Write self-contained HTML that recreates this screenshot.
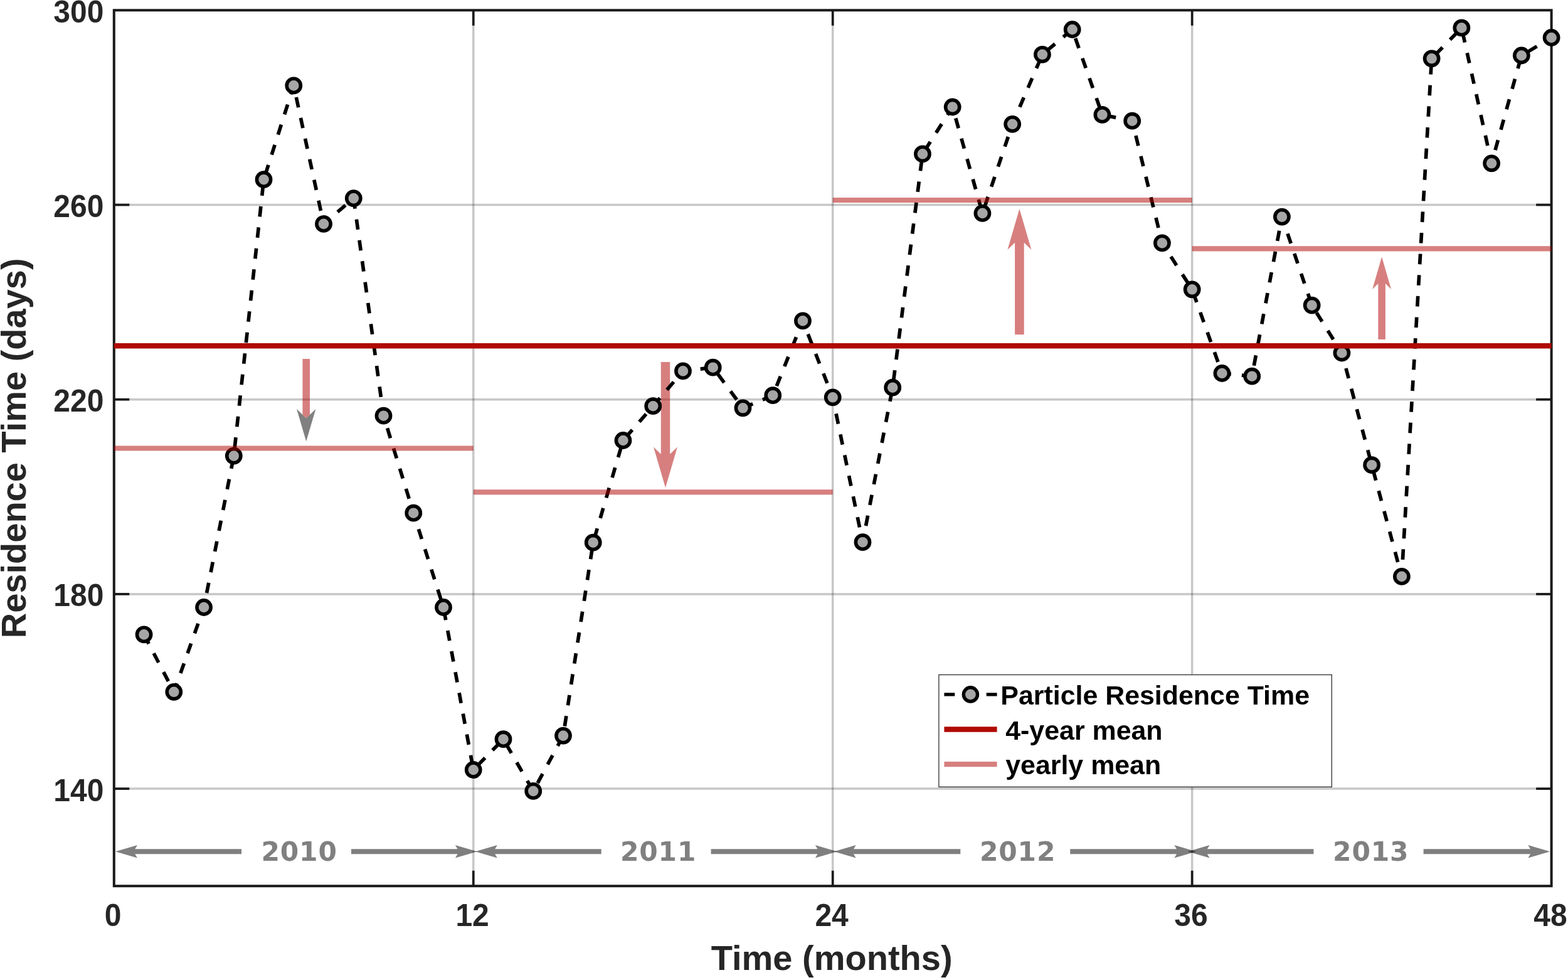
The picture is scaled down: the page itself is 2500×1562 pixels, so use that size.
<!DOCTYPE html>
<html lang="en">
<head>
<meta charset="utf-8">
<title>Particle Residence Time</title>
<style>
html,body{margin:0;padding:0;background:#fff;}
body{width:2500px;height:1562px;overflow:hidden;}
svg{display:block;}
text{font-family:"Liberation Sans",sans-serif;font-weight:bold;}
.tick{font-size:49.2px;fill:#262626;}
.axl{font-size:56px;fill:#262626;}
.leg{font-size:42.9px;fill:#000;}
.yr{font-family:"DejaVu Sans","Liberation Sans",sans-serif;font-size:42.4px;letter-spacing:0.8px;fill:#808080;}
</style>
</head>
<body>
<svg width="2500" height="1562" viewBox="0 0 2500 1562">
<rect x="0" y="0" width="2500" height="1562" fill="#fff"/>

<g stroke="#262626" stroke-opacity="0.26" stroke-width="3.5" fill="none">
<line x1="754.75" y1="16.30" x2="754.75" y2="1412.20"/>
<line x1="1327.70" y1="16.30" x2="1327.70" y2="1412.20"/>
<line x1="1900.65" y1="16.30" x2="1900.65" y2="1412.20"/>
<line x1="181.80" y1="1257.10" x2="2473.60" y2="1257.10"/>
<line x1="181.80" y1="946.90" x2="2473.60" y2="946.90"/>
<line x1="181.80" y1="636.70" x2="2473.60" y2="636.70"/>
<line x1="181.80" y1="326.50" x2="2473.60" y2="326.50"/>
</g>
<rect x="181.80" y="16.30" width="2291.80" height="1395.90" fill="none" stroke="#1a1a1a" stroke-width="4"/>
<g stroke="#1a1a1a" stroke-width="3.7" fill="none">
<line x1="754.75" y1="1412.20" x2="754.75" y2="1387.70"/>
<line x1="754.75" y1="16.30" x2="754.75" y2="40.80"/>
<line x1="1327.70" y1="1412.20" x2="1327.70" y2="1387.70"/>
<line x1="1327.70" y1="16.30" x2="1327.70" y2="40.80"/>
<line x1="1900.65" y1="1412.20" x2="1900.65" y2="1387.70"/>
<line x1="1900.65" y1="16.30" x2="1900.65" y2="40.80"/>
<line x1="181.80" y1="1257.10" x2="206.30" y2="1257.10"/>
<line x1="2473.60" y1="1257.10" x2="2449.10" y2="1257.10"/>
<line x1="181.80" y1="946.90" x2="206.30" y2="946.90"/>
<line x1="2473.60" y1="946.90" x2="2449.10" y2="946.90"/>
<line x1="181.80" y1="636.70" x2="206.30" y2="636.70"/>
<line x1="2473.60" y1="636.70" x2="2449.10" y2="636.70"/>
<line x1="181.80" y1="326.50" x2="206.30" y2="326.50"/>
<line x1="2473.60" y1="326.50" x2="2449.10" y2="326.50"/>
</g>
<g>
<polygon points="482.40,572.10 494.00,572.10 494.00,660.90 488.20,666.42 482.40,660.90" fill="#b00000" fill-opacity="0.5"/>
<polygon points="488.20,703.50 473.05,652.00 488.20,666.42 503.35,652.00" fill="#808080" fill-opacity="1"/>
<polygon points="1053.75,577.00 1068.25,577.00 1068.25,723.72 1080.00,712.50 1061.00,777.30 1042.00,712.50 1053.75,723.72" fill="#b00000" fill-opacity="0.5"/>
<polygon points="1618.10,533.20 1632.70,533.20 1632.70,386.73 1644.40,397.90 1625.40,333.10 1606.40,397.90 1618.10,386.73" fill="#b00000" fill-opacity="0.5"/>
<polygon points="2197.30,541.10 2208.90,541.10 2208.90,452.09 2218.10,460.90 2203.10,409.60 2188.10,460.90 2197.30,452.09" fill="#b00000" fill-opacity="0.5"/>
</g>
<polyline fill="none" stroke="#000" stroke-width="5.7" stroke-dasharray="16.6 17.08" points="229.55,1011.40 277.29,1102.80 325.04,968.00 372.78,726.60 420.53,286.20 468.27,136.40 516.02,356.90 563.77,316.10 611.51,662.70 659.26,817.70 707.00,968.00 754.75,1227.00 802.50,1178.20 850.24,1260.90 897.99,1172.60 945.73,864.70 993.48,702.00 1041.22,647.20 1088.97,591.40 1136.72,585.70 1184.46,650.30 1232.21,630.20 1279.95,511.40 1327.70,633.30 1375.45,864.20 1423.19,617.70 1470.94,245.40 1518.68,170.50 1566.43,339.90 1614.17,197.80 1661.92,86.80 1709.67,47.00 1757.41,182.90 1805.16,192.70 1852.90,387.40 1900.65,461.30 1948.40,595.00 1996.14,599.70 2043.89,345.60 2091.63,486.60 2139.38,562.50 2187.12,741.20 2234.87,918.90 2282.62,93.30 2330.36,44.40 2378.11,260.30 2425.85,88.50 2473.60,60.00"/>
<g fill="#a6a6a6" stroke="#000" stroke-width="5.6">
<circle cx="229.55" cy="1011.40" r="11.1"/>
<circle cx="277.29" cy="1102.80" r="11.1"/>
<circle cx="325.04" cy="968.00" r="11.1"/>
<circle cx="372.78" cy="726.60" r="11.1"/>
<circle cx="420.53" cy="286.20" r="11.1"/>
<circle cx="468.27" cy="136.40" r="11.1"/>
<circle cx="516.02" cy="356.90" r="11.1"/>
<circle cx="563.77" cy="316.10" r="11.1"/>
<circle cx="611.51" cy="662.70" r="11.1"/>
<circle cx="659.26" cy="817.70" r="11.1"/>
<circle cx="707.00" cy="968.00" r="11.1"/>
<circle cx="754.75" cy="1227.00" r="11.1"/>
<circle cx="802.50" cy="1178.20" r="11.1"/>
<circle cx="850.24" cy="1260.90" r="11.1"/>
<circle cx="897.99" cy="1172.60" r="11.1"/>
<circle cx="945.73" cy="864.70" r="11.1"/>
<circle cx="993.48" cy="702.00" r="11.1"/>
<circle cx="1041.22" cy="647.20" r="11.1"/>
<circle cx="1088.97" cy="591.40" r="11.1"/>
<circle cx="1136.72" cy="585.70" r="11.1"/>
<circle cx="1184.46" cy="650.30" r="11.1"/>
<circle cx="1232.21" cy="630.20" r="11.1"/>
<circle cx="1279.95" cy="511.40" r="11.1"/>
<circle cx="1327.70" cy="633.30" r="11.1"/>
<circle cx="1375.45" cy="864.20" r="11.1"/>
<circle cx="1423.19" cy="617.70" r="11.1"/>
<circle cx="1470.94" cy="245.40" r="11.1"/>
<circle cx="1518.68" cy="170.50" r="11.1"/>
<circle cx="1566.43" cy="339.90" r="11.1"/>
<circle cx="1614.17" cy="197.80" r="11.1"/>
<circle cx="1661.92" cy="86.80" r="11.1"/>
<circle cx="1709.67" cy="47.00" r="11.1"/>
<circle cx="1757.41" cy="182.90" r="11.1"/>
<circle cx="1805.16" cy="192.70" r="11.1"/>
<circle cx="1852.90" cy="387.40" r="11.1"/>
<circle cx="1900.65" cy="461.30" r="11.1"/>
<circle cx="1948.40" cy="595.00" r="11.1"/>
<circle cx="1996.14" cy="599.70" r="11.1"/>
<circle cx="2043.89" cy="345.60" r="11.1"/>
<circle cx="2091.63" cy="486.60" r="11.1"/>
<circle cx="2139.38" cy="562.50" r="11.1"/>
<circle cx="2187.12" cy="741.20" r="11.1"/>
<circle cx="2234.87" cy="918.90" r="11.1"/>
<circle cx="2282.62" cy="93.30" r="11.1"/>
<circle cx="2330.36" cy="44.40" r="11.1"/>
<circle cx="2378.11" cy="260.30" r="11.1"/>
<circle cx="2425.85" cy="88.50" r="11.1"/>
<circle cx="2473.60" cy="60.00" r="11.1"/>
</g>
<line x1="181.80" y1="551.3" x2="2473.60" y2="551.3" stroke="#b00a04" stroke-width="8.4"/>
<g stroke="#b00000" stroke-opacity="0.5" stroke-width="8.2">
<line x1="181.80" y1="714.50" x2="754.75" y2="714.50"/>
<line x1="754.75" y1="784.30" x2="1327.70" y2="784.30"/>
<line x1="1327.70" y1="319.00" x2="1900.65" y2="319.00"/>
<line x1="1900.65" y1="396.40" x2="2473.60" y2="396.40"/>
</g>
<g fill="#000" fill-opacity="0.5">
<polygon points="385.00,1353.25 215.24,1353.25 219.00,1347.00 184.00,1357.30 219.00,1367.60 215.24,1361.35 385.00,1361.35 385.00,1353.25"/>
<polygon points="560.00,1353.25 729.56,1353.25 725.80,1347.00 760.80,1357.30 725.80,1367.60 729.56,1361.35 560.00,1361.35 560.00,1353.25"/>
<polygon points="958.70,1353.25 789.14,1353.25 792.90,1347.00 757.90,1357.30 792.90,1367.60 789.14,1361.35 958.70,1361.35 958.70,1353.25"/>
<polygon points="1133.60,1353.25 1303.56,1353.25 1299.80,1347.00 1334.80,1357.30 1299.80,1367.60 1303.56,1361.35 1133.60,1361.35 1133.60,1353.25"/>
<polygon points="1531.30,1353.25 1360.94,1353.25 1364.70,1347.00 1329.70,1357.30 1364.70,1367.60 1360.94,1361.35 1531.30,1361.35 1531.30,1353.25"/>
<polygon points="1706.20,1353.25 1876.06,1353.25 1872.30,1347.00 1907.30,1357.30 1872.30,1367.60 1876.06,1361.35 1706.20,1361.35 1706.20,1353.25"/>
<polygon points="2094.40,1353.25 1924.84,1353.25 1928.60,1347.00 1893.60,1357.30 1928.60,1367.60 1924.84,1361.35 2094.40,1361.35 2094.40,1353.25"/>
<polygon points="2269.60,1353.25 2440.06,1353.25 2436.30,1347.00 2471.30,1357.30 2436.30,1367.60 2440.06,1361.35 2269.60,1361.35 2269.60,1353.25"/>
</g>
<text class="yr" x="477.1" y="1372.3" text-anchor="middle">2010</text>
<text class="yr" x="1049.6" y="1372.3" text-anchor="middle">2011</text>
<text class="yr" x="1622.6" y="1372.3" text-anchor="middle">2012</text>
<text class="yr" x="2185.7" y="1372.3" text-anchor="middle">2013</text>
<text class="tick" transform="translate(165.4,1276.5) scale(0.976,1)" text-anchor="end">140</text>
<text class="tick" transform="translate(165.4,966.3) scale(0.976,1)" text-anchor="end">180</text>
<text class="tick" transform="translate(165.4,656.1) scale(0.976,1)" text-anchor="end">220</text>
<text class="tick" transform="translate(165.4,345.9) scale(0.976,1)" text-anchor="end">260</text>
<text class="tick" transform="translate(165.4,35.7) scale(0.976,1)" text-anchor="end">300</text>
<text class="tick" transform="translate(180.2,1475.8) scale(0.976,1)" text-anchor="middle">0</text>
<text class="tick" transform="translate(753.1,1475.8) scale(0.976,1)" text-anchor="middle">12</text>
<text class="tick" transform="translate(1326.1,1475.8) scale(0.976,1)" text-anchor="middle">24</text>
<text class="tick" transform="translate(1899.0,1475.8) scale(0.976,1)" text-anchor="middle">36</text>
<text class="tick" transform="translate(2472.0,1475.8) scale(0.976,1)" text-anchor="middle">48</text>
<text class="axl" x="1326.2" y="1545.5" text-anchor="middle">Time (months)</text>
<text class="axl" transform="translate(41.1,714.3) rotate(-90)" text-anchor="middle">Residence Time (days)</text>
<rect x="1496.9" y="1075.5" width="626.4" height="178.8" fill="#fff" stroke="#2e2e2e" stroke-width="1.3"/>
<line x1="1505.4" y1="1106.9" x2="1522.3" y2="1106.9" stroke="#000" stroke-width="5.3"/>
<line x1="1572.7" y1="1106.9" x2="1589.6" y2="1106.9" stroke="#000" stroke-width="5.3"/>
<circle cx="1547.4" cy="1106.9" r="11.1" fill="#a6a6a6" stroke="#000" stroke-width="5.4"/>
<line x1="1505.4" y1="1162.5" x2="1589.6" y2="1162.5" stroke="#b00a04" stroke-width="8.4"/>
<line x1="1505.4" y1="1218.2" x2="1589.6" y2="1218.2" stroke="#b00000" stroke-opacity="0.5" stroke-width="8.2"/>
<text class="leg" x="1595.3" y="1123.3">Particle Residence Time</text>
<text class="leg" x="1603.2" y="1178.9">4-year mean</text>
<text class="leg" x="1603.2" y="1234.1">yearly mean</text>
</svg>
</body>
</html>
